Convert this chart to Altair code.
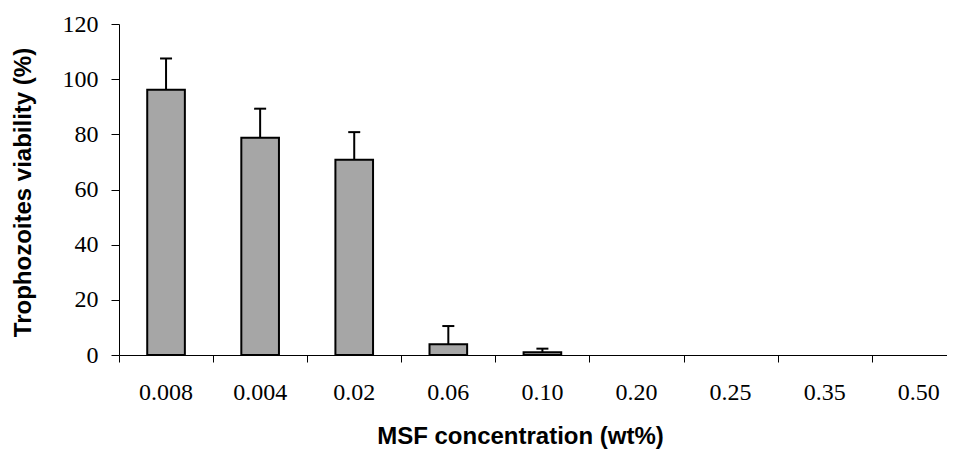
import altair as alt
import pandas as pd

categories = ["0.008", "0.004", "0.02", "0.06", "0.10", "0.20", "0.25", "0.35", "0.50"]
viability = [96.2, 78.8, 70.8, 3.9, 1.0, 0, 0, 0, 0]
std_dev = [11.3, 10.5, 10.0, 6.6, 1.3, 0, 0, 0, 0]
y_ticks = [0, 20, 40, 60, 80, 100, 120]

df = pd.DataFrame({
    "conc": categories,
    "viability": viability,
    "sd": std_dev,
    "idx": list(range(len(categories))),
})

base = alt.Chart(df).transform_calculate(
    left="datum.idx + 0.3",
    right="datum.idx + 0.7",
    mid="datum.idx + 0.5",
    top="datum.viability + datum.sd",
)

xscale = alt.Scale(domain=[0, 8.8], nice=False, zero=False)
yscale = alt.Scale(domain=[0, 120], nice=False)

x_axis = alt.Axis(
    values=list(range(len(categories))), labels=False, ticks=True, tickSize=7,
    grid=False, domainColor="black", tickColor="black", domainWidth=1, tickWidth=1,
    title="MSF concentration (wt%)", titleFont="Liberation Sans", titleFontSize=24,
    titleFontWeight="bold", titleColor="black", titleX=401, titleY=88,
    titleAlign="center", titleBaseline="alphabetic",
)
y_axis = alt.Axis(
    values=y_ticks, grid=False, tickSize=8, domainColor="black", tickColor="black",
    domainWidth=1, tickWidth=1,
    labelFont="Liberation Serif", labelFontSize=24, labelColor="black", labelPadding=13,
    title="Trophozoites viability (%)", titleFont="Liberation Sans", titleFontSize=24,
    titleFontWeight="bold", titleColor="black", titleAngle=270, titleX=-96, titleY=168,
    titleAlign="center", titleBaseline="middle",
)

bars = base.transform_filter("datum.viability > 0").mark_bar(
    fill="#a6a6a6", stroke="black", strokeWidth=2
).encode(
    x=alt.X("left:Q", scale=xscale, axis=x_axis),
    x2="right:Q",
    y=alt.Y("viability:Q", scale=yscale, axis=y_axis),
    y2=alt.datum(0),
)

err = base.transform_filter("datum.sd > 0").mark_rule(color="black", strokeWidth=2).encode(
    x=alt.X("mid:Q", scale=xscale),
    y=alt.Y("viability:Q", scale=yscale),
    y2="top:Q",
)

cap = base.transform_filter("datum.sd > 0").mark_rule(
    color="black", strokeWidth=2, xOffset=-6, x2Offset=6
).encode(
    x=alt.X("mid:Q", scale=xscale),
    x2="mid:Q",
    y=alt.Y("top:Q", scale=yscale),
)

labels = base.mark_text(
    font="Liberation Serif", fontSize=24, baseline="alphabetic", align="center", color="black"
).encode(
    x=alt.X("mid:Q", scale=xscale),
    y=alt.value(376),
    text="conc:N",
)

chart = alt.layer(err, cap, bars, labels).properties(
    width=828, height=331,
    autosize=alt.AutoSizeParams(type="none"),
    padding={"left": 111, "top": 16, "right": 0, "bottom": 95},
).configure_view(stroke=None)

chart.save("out.html", embed_options={"renderer": "svg", "actions": False})
